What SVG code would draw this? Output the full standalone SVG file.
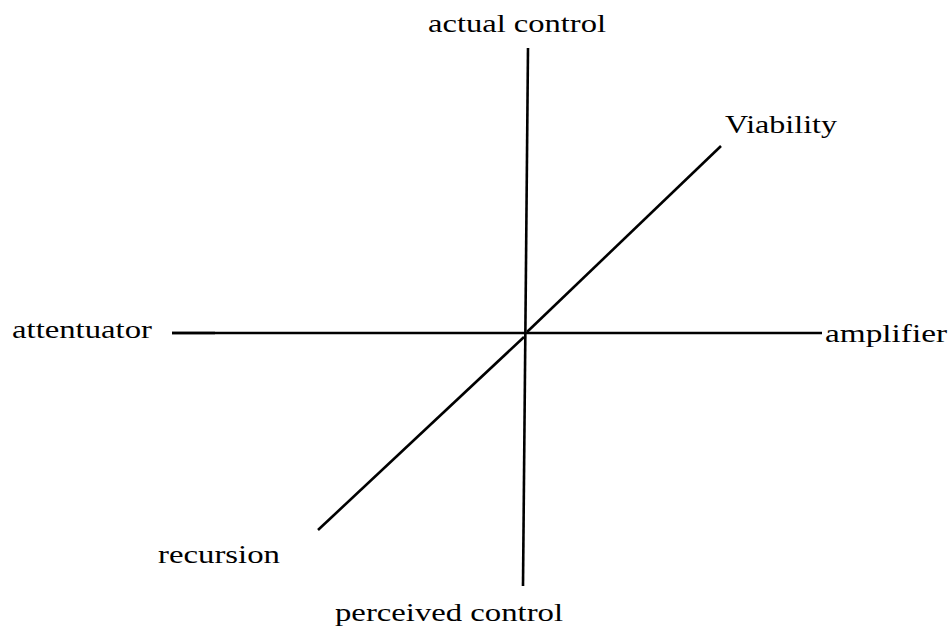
<svg xmlns="http://www.w3.org/2000/svg" width="951" height="630" viewBox="0 0 951 630">
<style>
.lbl{font-family:"Liberation Serif","Times New Roman",serif;font-size:26px;fill:#000}
.ax{stroke:#000;stroke-width:2.6;fill:none;stroke-linecap:butt}
</style>
<rect width="951" height="630" fill="#fff"/>
<g id="connectors">
<line class="ax" x1="528" y1="48" x2="523" y2="586"/>
<line class="ax" x1="172" y1="333" x2="822" y2="333"/>
<line class="ax" x1="172" y1="333" x2="215" y2="333" stroke-width="4"/>
<line class="ax" x1="527" y1="332" x2="721" y2="146" stroke-width="3"/>
<line class="ax" x1="318" y1="530" x2="524" y2="337" stroke-width="3"/>
</g>
<g id="actual-control"><text class="lbl" x="428" y="32" textLength="178" lengthAdjust="spacingAndGlyphs">actual control</text></g>
<g id="viability"><text class="lbl" x="725" y="133" textLength="112" lengthAdjust="spacingAndGlyphs">Viability</text></g>
<g id="attentuator"><text class="lbl" x="12" y="338" textLength="140" lengthAdjust="spacingAndGlyphs">attentuator</text></g>
<g id="amplifier"><text class="lbl" x="825" y="342" textLength="122" lengthAdjust="spacingAndGlyphs">amplifier</text></g>
<g id="recursion"><text class="lbl" x="158" y="563" textLength="122" lengthAdjust="spacingAndGlyphs">recursion</text></g>
<g id="perceived-control"><text class="lbl" x="335" y="621" textLength="228" lengthAdjust="spacingAndGlyphs">perceived control</text></g>
</svg>
